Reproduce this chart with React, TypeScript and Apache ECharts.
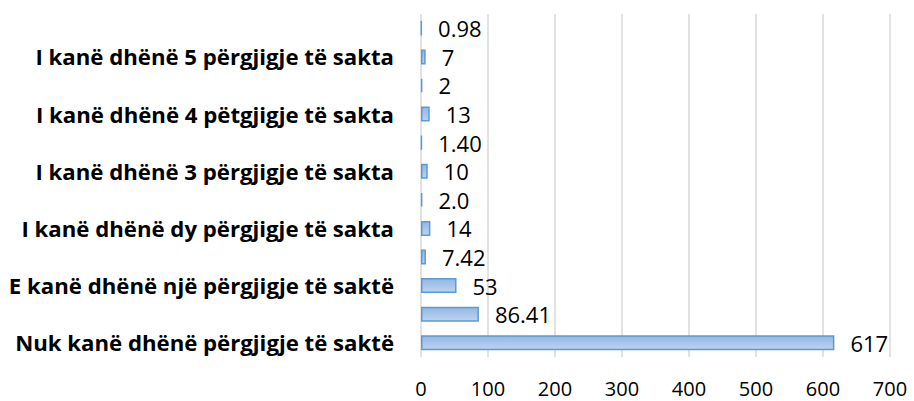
import React, { useEffect, useRef } from "react";
import * as echarts from "echarts";

const categories = [
  "Nuk kanë dhënë përgjigje të saktë",
  "",
  "E kanë dhënë një përgjigje të saktë",
  "",
  "I kanë dhënë dy përgjigje të sakta",
  "",
  "I kanë dhënë 3 përgjigje të sakta",
  "",
  "I kanë dhënë 4 pëtgjigje të sakta",
  "",
  "I kanë dhënë 5 përgjigje të sakta",
  "",
];
const values = [617, 86.41, 53, 7.42, 14, 2.0, 10, 1.4, 13, 2, 7, 0.98];
const valueLabels = ["617", "86.41", "53", "7.42", "14", "2.0", "10", "1.40", "13", "2", "7", "0.98"];
const xTicks = [0, 100, 200, 300, 400, 500, 600, 700];

export default function App() {
  const ref = useRef<HTMLDivElement>(null);
  useEffect(() => {
    if (!ref.current) return;
    const chart = echarts.init(ref.current, null, { renderer: "svg" });
    chart.setOption({
      animation: false,
      grid: { left: 421, right: 24, top: 14, bottom: 44, containLabel: false },
      xAxis: {
        type: "value",
        min: xTicks[0],
        max: xTicks[xTicks.length - 1],
        interval: 100,
        axisLine: { show: false },
        axisTick: { show: false },
        splitLine: { show: true, lineStyle: { color: "#d9d9d9", width: 1.5 } },
        axisLabel: {
          margin: 21,
          fontFamily: "Open Sans",
          fontSize: 20,
          color: "#000",
        },
      },
      yAxis: {
        type: "category",
        data: categories,
        axisLine: { show: false },
        axisTick: { show: false },
        splitLine: { show: false },
        axisLabel: {
          margin: 27,
          fontFamily: "Open Sans",
          fontWeight: "bold",
          fontSize: 22.2,
          color: "#000",
          interval: 0,
        },
      },
      series: [
        {
          type: "bar",
          data: values,
          barWidth: 15,
          itemStyle: {
            color: new echarts.graphic.LinearGradient(0, 0, 0, 1, [
              { offset: 0, color: "#93b7e4" },
              { offset: 1, color: "#bdd3ef" },
            ]),
            borderColor: "#5b9bd5",
            borderWidth: 1.5,
          },
          label: {
            show: true,
            position: "right",
            distance: 16,
            fontFamily: "Open Sans",
            fontSize: 22,
            color: "#000",
            formatter: (p: any) => valueLabels[p.dataIndex],
          },
        },
      ],
    });
    return () => chart.dispose();
  }, []);
  return (
    <div
      ref={ref}
      style={{ position: "absolute", left: 0, top: 0, width: 914, height: 401, background: "#fff" }}
    />
  );
}
